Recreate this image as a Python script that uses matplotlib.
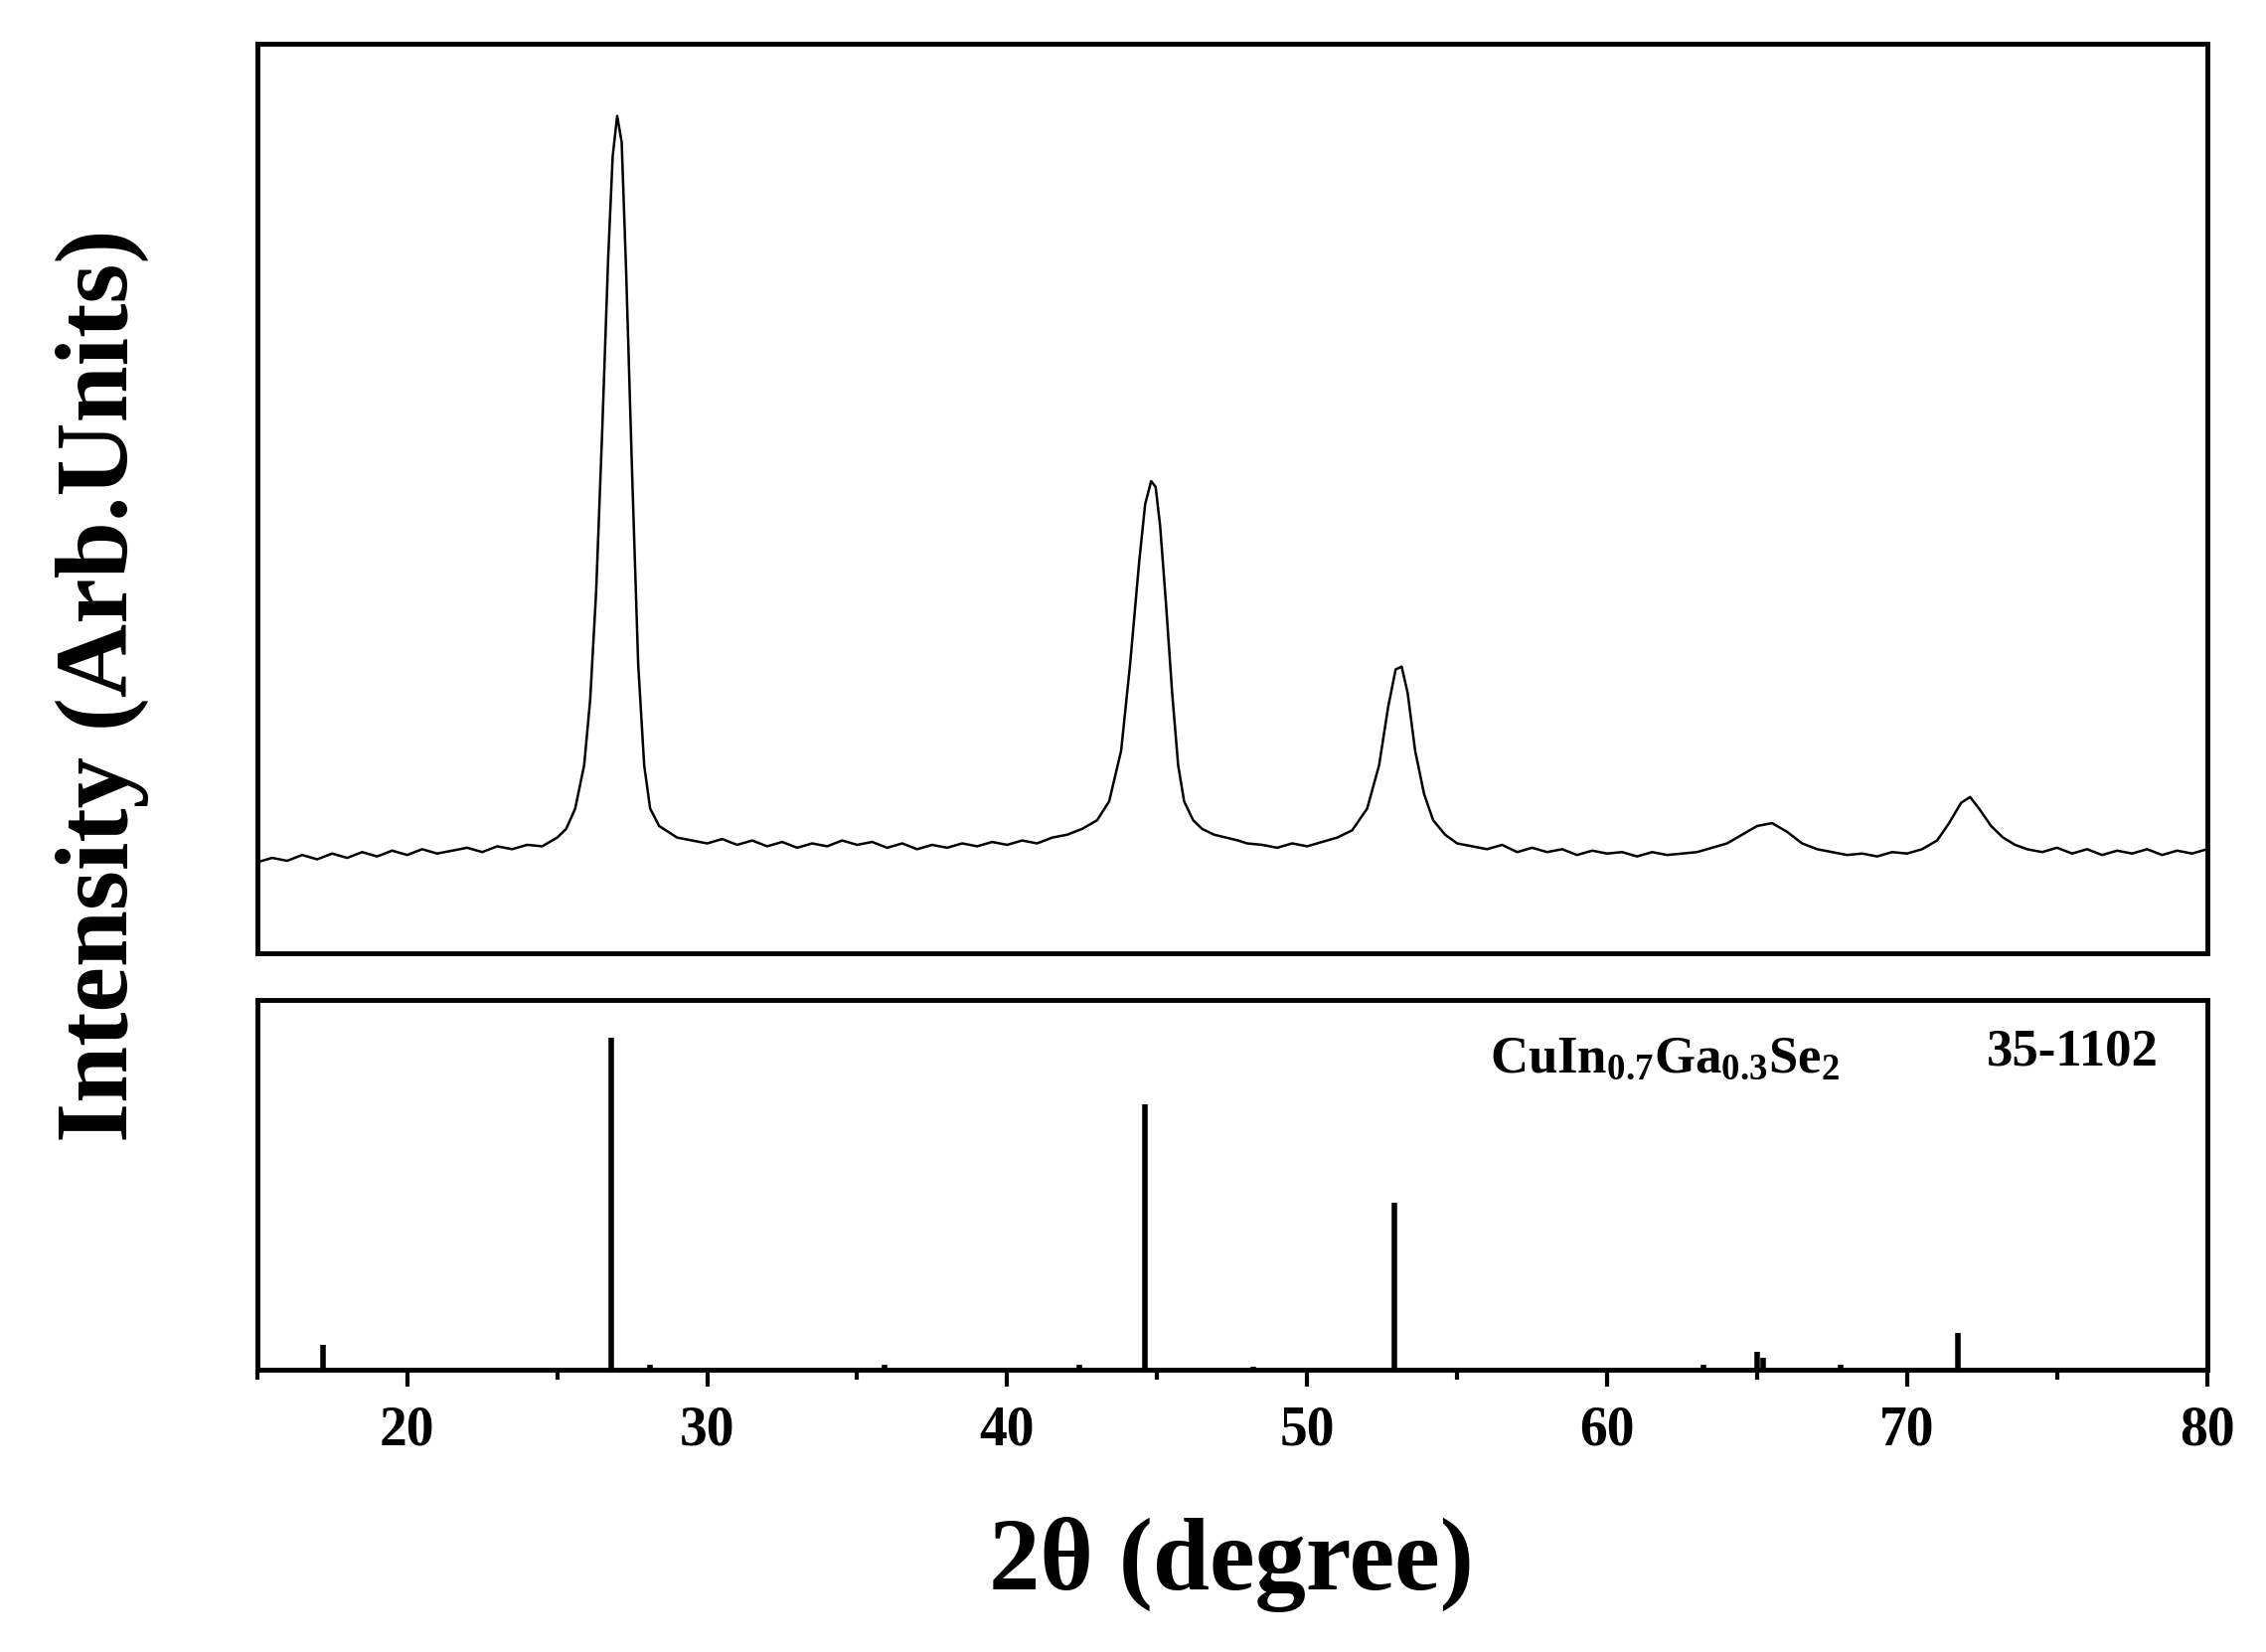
import matplotlib.pyplot as plt
import numpy as np

two_theta = [15.0, 15.5, 16.0, 16.5, 17.0, 17.5, 18.0, 18.5, 19.0, 19.5, 20.0, 20.5, 21.0, 21.5,
             22.0, 22.5, 23.0, 23.5, 24.0, 24.5, 25.0, 25.3, 25.6, 25.9, 26.1, 26.3, 26.5,
             26.7, 26.85, 27.0, 27.15, 27.3, 27.5, 27.7, 27.9, 28.1, 28.4, 28.7, 29.0,
             29.5, 30.0, 30.5, 31.0, 31.5, 32.0, 32.5, 33.0, 33.5, 34.0, 34.5, 35.0, 35.5,
             36.0, 36.5, 37.0, 37.5, 38.0, 38.5, 39.0, 39.5, 40.0, 40.5, 41.0, 41.5, 42.0,
             42.5, 43.0, 43.4, 43.8, 44.1, 44.4, 44.6, 44.8, 44.95, 45.1, 45.3, 45.5, 45.7,
             45.9, 46.2, 46.5, 46.9, 47.3, 47.7, 48.0, 48.5, 49.0, 49.5, 50.0, 50.5, 51.0,
             51.5, 52.0, 52.4, 52.7, 52.95, 53.15, 53.35, 53.6, 53.9, 54.2, 54.6, 55.0,
             55.5, 56.0, 56.5, 57.0, 57.5, 58.0, 58.5, 59.0, 59.5, 60.0, 60.5, 61.0, 61.5,
             62.0, 62.5, 63.0, 63.5, 64.0, 64.5, 65.0, 65.5, 66.0, 66.5, 67.0, 67.5, 68.0,
             68.5, 69.0, 69.5, 70.0, 70.5, 71.0, 71.4, 71.8, 72.1, 72.4, 72.8, 73.2, 73.6,
             74.0, 74.5, 75.0, 75.5, 76.0, 76.5, 77.0, 77.5, 78.0, 78.5, 79.0, 79.5, 80.0]
intensity = [63, 66, 64, 68, 65, 69, 66, 70, 67, 71, 68, 72, 69, 71,
             73, 70, 74, 72, 75, 74, 80, 86, 100, 130, 175, 250, 360,
             480, 550, 578, 560, 470, 330, 200, 130, 100, 88, 84, 80,
             78, 76, 79, 75, 78, 74, 77, 73, 76, 74, 78, 75, 77,
             73, 76, 72, 75, 73, 76, 74, 77, 75, 78, 76, 80, 82,
             86, 92, 105, 140, 200, 270, 310, 326, 322, 295, 240, 180, 130,
             105, 92, 86, 82, 80, 78, 76, 75, 73, 76, 74, 77, 80,
             85, 100, 130, 170, 196, 198, 180, 140, 110, 92, 82, 76,
             74, 72, 75, 70, 73, 70, 72, 68, 71, 69, 70, 67, 70,
             68, 69, 70, 73, 76, 82, 88, 90, 84, 76, 72, 70, 68,
             69, 67, 70, 69, 72, 78, 90, 104, 108, 100, 88, 80, 75,
             72, 70, 73, 69, 72, 68, 71, 69, 72, 68, 71, 69, 72]

# reference pattern CuIn0.7Ga0.3Se2, JCPDS 35-1102
ref_pos = [17.2, 26.8, 28.1, 35.9, 42.4, 44.6, 48.2, 52.9, 63.2, 65.0, 65.2, 67.8, 71.7]
ref_int = [17, 229, 3, 3, 3, 183, 2, 115, 3, 12, 8, 3, 25]

plt.rcParams["font.family"] = ["Liberation Serif", "DejaVu Serif"]
plt.rcParams["font.weight"] = "bold"
plt.rcParams["mathtext.fontset"] = "custom"
plt.rcParams["mathtext.rm"] = "Liberation Serif:bold"
plt.rcParams["mathtext.bf"] = "Liberation Serif:bold"
plt.rcParams["mathtext.it"] = "Liberation Serif:bold"
plt.rcParams["mathtext.default"] = "bf"

fig = plt.figure(figsize=(22.8, 16.62), dpi=100)
ax1 = fig.add_axes([0.1135, 0.4228, 0.8605, 0.5509])
ax2 = fig.add_axes([0.1135, 0.1711, 0.8605, 0.2236])

ax1.plot(two_theta, intensity, color="black", lw=1.8)
ax1.set_xlim(15, 80)
ax1.set_ylim(0, 628)
ax1.set_xticks([])
ax1.set_yticks([])

ax2.vlines(ref_pos, 0, ref_int, color="black", lw=4)
ax2.set_xlim(15, 80)
ax2.set_ylim(0, 255)
ax2.set_yticks([])
ax2.set_xticks(np.arange(20, 81, 10))
ax2.set_xticks(np.arange(15, 81, 5), minor=True)
ax2.tick_params(axis="x", which="major", direction="out", length=12, width=3,
                labelsize=40, pad=14)
ax2.tick_params(axis="x", which="minor", direction="out", length=7, width=3)
for lbl in ax2.get_xticklabels():
    lbl.set_fontweight("bold")
ax2.text(0.632, 0.84, r"CuIn$_{0.7}$Ga$_{0.3}$Se$_{2}$",
         transform=ax2.transAxes, fontsize=38, fontweight="bold", va="center")
ax2.text(0.975, 0.86, "35-1102", transform=ax2.transAxes, fontsize=38,
         fontweight="bold", va="center", ha="right")

for ax in (ax1, ax2):
    for s in ax.spines.values():
        s.set_linewidth(3.5)

fig.text(0.5435, 0.053, "2θ (degree)", ha="center", va="center", fontsize=74, fontweight="bold")
fig.text(0.045, 0.585, "Intensity (Arb.Units)", ha="center", va="center", rotation=90,
         fontsize=74, fontweight="bold")

fig.savefig("out.png", dpi=100)
